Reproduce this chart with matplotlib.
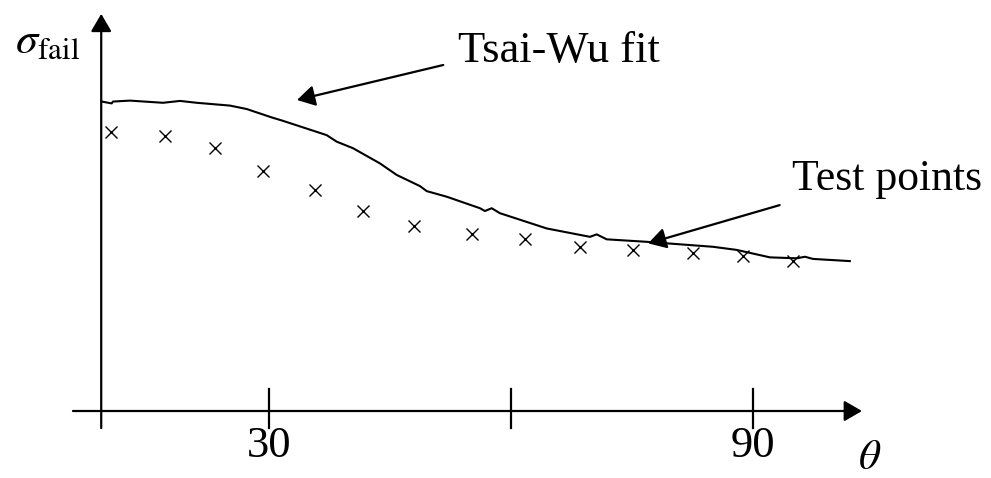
import numpy as np
import matplotlib.pyplot as plt

plt.rcParams['font.family'] = ['Liberation Serif', 'DejaVu Serif']
plt.rcParams['mathtext.fontset'] = 'stix'

# Tsai-Wu fit curve (theta in deg, sigma in arbitrary units)
fit_theta = [9.26, 10.5, 10.66, 12.77, 16.86, 18.97, 21.04, 25.16, 27.23, 30.33,
             31.73, 37.15, 38.39, 40.41, 43.76, 45.83, 48.72, 49.55, 52.03, 56.15,
             56.77, 57.6, 58.63, 64.42, 69.79, 70.62, 71.86, 76.82, 85.04, 87.97,
             92.1, 95.41, 96.44, 97.43, 102.0]
fit_sigma = [99.5, 98.9, 99.5, 99.8, 99.1, 99.7, 99.1, 98.2, 97.1, 94.4,
             93.3, 88.7, 86.6, 84.5, 79.6, 75.9, 72.3, 70.7, 68.9, 65.2,
             64.3, 65.2, 63.6, 58.7, 56.0, 56.8, 55.2, 54.4, 52.8, 51.8,
             49.4, 49.1, 49.6, 48.9, 48.2]

# test points
test_theta = [10.4, 17.1, 23.3, 29.3, 35.7, 41.7, 48.0, 55.2, 61.7, 68.6, 75.1, 82.6, 88.8, 94.9]
test_sigma = [89.6, 88.4, 84.5, 77.2, 71.1, 64.3, 59.5, 56.9, 55.2, 52.8, 51.8, 50.9, 49.8, 48.3]

tick_pos = [30, 60, 90]
tick_labels = ['30', '', '90']

y_axis_at = 9.2

fig = plt.figure(figsize=(9.91, 4.78), dpi=100)
ax = fig.add_axes([0, 0, 1, 1])
ax.set_xlim(-3.347, 119.5)
ax.set_ylim(-21.54, 132.15)
ax.axis('off')

ax_arrow = dict(arrowstyle='-|>,head_length=0.6,head_width=0.35', mutation_scale=18,
                color='black', lw=1.6, shrinkA=0, shrinkB=0)

# axes with arrows
ax.annotate('', xy=(103.5, 0), xytext=(5.7, 0), arrowprops=ax_arrow)
ax.annotate('', xy=(y_axis_at, 127.7), xytext=(y_axis_at, -5.5), arrowprops=ax_arrow)

for t, lab in zip(tick_pos, tick_labels):
    ax.plot([t, t], [7.1, -5.5], color='black', lw=1.6)
    if lab:
        ax.text(t, -14.8, lab, ha='center', va='baseline', fontsize=32)

ax.text(104.5, -15.2, r'$\theta$', ha='center', va='center', fontsize=31)
ax.text(-1.49, 115.1, r'$\sigma_{\mathrm{fail}}$', ha='left', va='baseline', fontsize=32)

ax.plot(fit_theta, fit_sigma, color='black', lw=1.5)
ax.plot(test_theta, test_sigma, 'x', color='black', markersize=9, markeredgewidth=1.0)

lbl_arrow = dict(arrowstyle='-|>,head_length=0.6,head_width=0.35', mutation_scale=18,
                 color='black', lw=1.6, shrinkA=0, shrinkB=0)
ax.annotate('', xy=(33.47, 100.0), xytext=(51.6, 111.25), arrowprops=lbl_arrow)
ax.annotate('', xy=(77.0, 53.9), xytext=(93.3, 66.2), arrowprops=lbl_arrow)
ax.text(53.4, 112.2, 'Tsai-Wu fit', ha='left', va='baseline', fontsize=32)
ax.text(94.8, 71.06, 'Test points', ha='left', va='baseline', fontsize=31.5)

fig.savefig('out.png', dpi=100)
